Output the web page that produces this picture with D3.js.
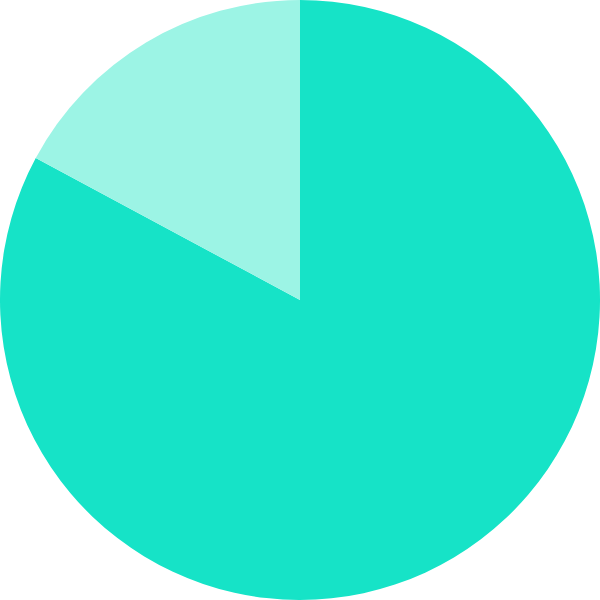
<!DOCTYPE html>
<html>
<head>
<meta charset="utf-8">
<script src="https://cdn.jsdelivr.net/npm/d3@7"></script>
<style>
  html, body { margin: 0; padding: 0; background: #fff; }
</style>
</head>
<body>
<svg id="chart" width="600" height="600"></svg>
<script>
const categories = ['A', 'B'];
const values = [82.85, 17.15];
const colors = ['#16e3c7', '#9cf4e5'];

const width = 600;
const height = 600;
const radius = 300;

const svg = d3.select('#chart');
const g = svg.append('g')
  .attr('transform', `translate(${width / 2},${height / 2})`);

const pie = d3.pie().sort(null);
const arc = d3.arc().innerRadius(0).outerRadius(radius);

g.selectAll('path')
  .data(pie(values))
  .enter()
  .append('path')
  .attr('d', arc)
  .attr('fill', (d, i) => colors[i]);
</script>
</body>
</html>
